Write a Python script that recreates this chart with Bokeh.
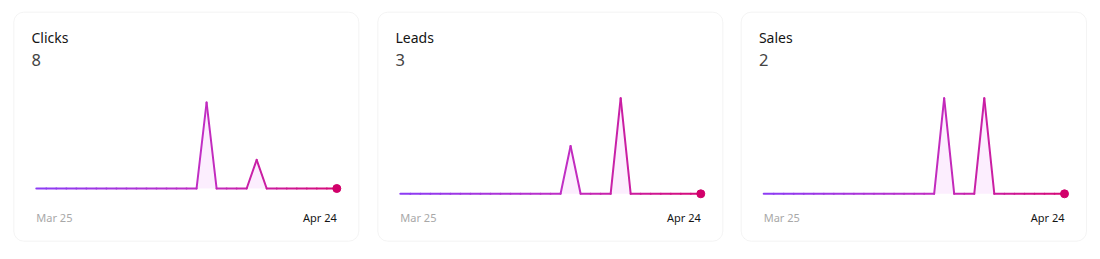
from datetime import datetime, timedelta
from bokeh.plotting import figure
from bokeh.layouts import row
from bokeh.models import Range1d, BoxAnnotation, Label, ColumnDataSource
from bokeh.embed import file_html
from bokeh.resources import INLINE

# ---- data ----
dates = [datetime(2025, 3, 25) + timedelta(days=i) for i in range(31)]
start_label = "Mar 25"
end_label = "Apr 24"
titles = ["Clicks", "Leads", "Sales"]
clicks = [0, 0, 0, 0, 0, 0, 0, 0, 0, 0, 0, 0, 0, 0, 0, 0, 0, 6, 0, 0, 0, 0, 2, 0, 0, 0, 0, 0, 0, 0, 0]
leads = [0, 0, 0, 0, 0, 0, 0, 0, 0, 0, 0, 0, 0, 0, 0, 0, 0, 1, 0, 0, 0, 0, 2, 0, 0, 0, 0, 0, 0, 0, 0]
sales = [0, 0, 0, 0, 0, 0, 0, 0, 0, 0, 0, 0, 0, 0, 0, 0, 0, 0, 1, 0, 0, 0, 1, 0, 0, 0, 0, 0, 0, 0, 0]
series = [clicks, leads, sales]

# ---- layout / style ----
H = 259
fig_widths = [366, 367, 367]
fig_lefts = [0, 366, 733]
card_l = [13.3, 377.3, 740.7]
card_r = [358.3, 722.3, 1086.0]
card_top, card_bottom = 11.7, 240.7
base_px = [188.0, 193.3, 193.3]
peak_px = [102.0, 97.7, 97.7]
FONT = "Noto Sans"
stops = [(0.0, (139, 60, 246)), (0.55, (192, 46, 196)), (1.0, (214, 10, 120))]


def grad(t):
    for (t0, c0), (t1, c1) in zip(stops[:-1], stops[1:]):
        if t <= t1:
            f = (t - t0) / (t1 - t0)
            c = [round(a + (b - a) * f) for a, b in zip(c0, c1)]
            return "#%02x%02x%02x" % tuple(c)
    return "#%02x%02x%02x" % stops[-1][1]


figs = []
for i, (title, vals) in enumerate(zip(titles, series)):
    W = fig_widths[i]
    cl = card_l[i] - fig_lefts[i]
    cr = card_r[i] - fig_lefts[i]
    pL, pR = cl + 22.5, cr - 22.0
    n = len(dates)
    mpp = (dates[-1] - dates[0]) / (pR - pL)
    x0 = dates[0] - mpp * pL
    x1 = x0 + mpp * W
    vmax = max(vals)
    upp = vmax / (base_px[i] - peak_px[i])
    y0 = -(H - base_px[i]) * upp
    y1 = y0 + H * upp

    p = figure(width=W, height=H, output_backend="svg", toolbar_location=None,
               x_axis_type=None, y_axis_type=None,
               x_range=Range1d(x0, x1), y_range=Range1d(y0, y1),
               min_border=0, outline_line_color=None,
               background_fill_color="white", border_fill_color="white")
    p.grid.visible = False

    card = BoxAnnotation(left=cl, right=cr, top=H - card_top, bottom=H - card_bottom,
                         left_units="screen", right_units="screen",
                         top_units="screen", bottom_units="screen",
                         fill_color="white", fill_alpha=1.0,
                         line_color="#dcdcdc", line_width=1, border_radius=10,
                         level="underlay")
    p.add_layout(card)

    src = ColumnDataSource(dict(x=dates, y=vals, z=[0] * n))
    p.varea(x="x", y1="z", y2="y", source=src, fill_color="#d946ef", fill_alpha=0.09)

    seg = ColumnDataSource(dict(
        x0=dates[:-1], y0=vals[:-1], x1=dates[1:], y1=vals[1:],
        c=[grad((k + 0.5) / (n - 1)) for k in range(n - 1)]))
    p.segment(x0="x0", y0="y0", x1="x1", y1="y1", source=seg, line_color="c",
              line_width=2, line_cap="round")
    p.scatter(x=[dates[-1]], y=[vals[-1]], size=8, fill_color="#d1006a",
              line_color="#d1006a")

    p.add_layout(Label(x=cl + 17.7, y=H - 37, x_units="screen", y_units="screen",
                       text=title, text_font=FONT, text_font_size="14px",
                       text_color="#141414", text_baseline="middle"))
    p.add_layout(Label(x=cl + 17.7, y=H - 59.5, x_units="screen", y_units="screen",
                       text=str(sum(vals)), text_font=FONT, text_font_size="16.5px",
                       text_color="#444444", text_baseline="middle"))
    p.add_layout(Label(x=dates[0], y=H - 217, x_units="data", y_units="screen",
                       text=start_label, text_font=FONT, text_font_size="11px",
                       text_color="#a8a8a8", text_baseline="middle", text_align="left"))
    p.add_layout(Label(x=dates[-1], y=H - 217, x_units="data", y_units="screen",
                       text=end_label, text_font=FONT, text_font_size="11px",
                       text_color="#141414", text_baseline="middle", text_align="right"))
    figs.append(p)

layout = row(*figs, spacing=0)
open("out.html", "w").write(file_html(layout, INLINE))
